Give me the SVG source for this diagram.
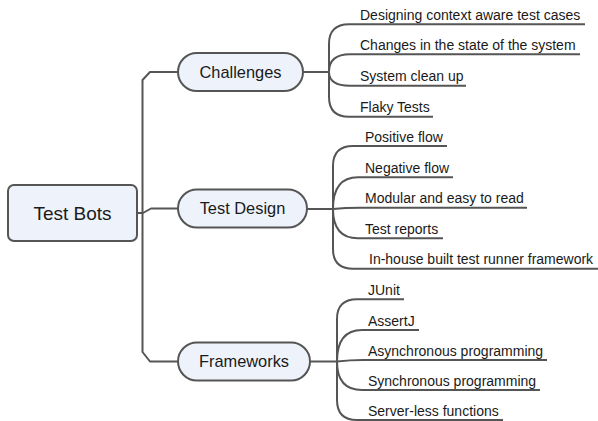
<svg xmlns="http://www.w3.org/2000/svg" width="598" height="421" viewBox="0 0 598 421">
<style>
.ln{fill:none;stroke:#555;stroke-width:2;stroke-linecap:butt;stroke-linejoin:round}
.bx{fill:#eef3fb;stroke:#555;stroke-width:2}
.t{font-family:"Liberation Sans",Arial,sans-serif;fill:#1a1a1a}
.leaf{font-size:14px}
.mid{font-size:16.4px;text-anchor:middle}
</style>
<rect width="598" height="421" fill="#ffffff"/>
<g id="connectors" class="ln">
<path d="M178,72 H150 L142.5,80 V352 L150,361.5 H178"/>
<path d="M137,213 H143 L151,208.5 H178"/>
<path d="M303,72 H329"/>
<path d="M329,72 V44 Q329,24.3 349,24.3 H585"/>
<path d="M329,72 Q329,54.3 350,54.3 H580"/>
<path d="M329,72 Q329,85.7 350,85.7 H466"/>
<path d="M329,72 V97 Q329,116.7 349,116.7 H433"/>
<path d="M307,209 H333"/>
<path d="M333,209 V166 Q333,146 353,146 H447"/>
<path d="M333,209 Q333,177.3 358,177.3 H453"/>
<path d="M333,209 Q345,207.7 361,207.7 H527"/>
<path d="M333,209 Q333,238.3 358,238.3 H443"/>
<path d="M333,209 V249 Q333,268.7 353,268.7 H598"/>
<path d="M310,361.5 H337"/>
<path d="M337,361.5 V319 Q337,299.3 357,299.3 H404"/>
<path d="M337,361.5 Q337,330 362,330 H419"/>
<path d="M337,361.5 Q350,360 363,360 H547"/>
<path d="M337,361.5 Q337,390 362,390 H540"/>
<path d="M337,361.5 V400 Q337,420 357,420 H503"/>
</g>
<g id="root">
<rect class="bx" x="8" y="185" width="129" height="56" rx="6"/>
<text class="t" x="72.5" y="219.5" font-size="19" text-anchor="middle">Test Bots</text>
</g>
<g id="challenges">
<rect class="bx" x="178" y="53" width="125" height="38" rx="19"/>
<text class="t mid" x="240.5" y="77.7">Challenges</text>
</g>
<g id="test-design">
<rect class="bx" x="178" y="189.5" width="129" height="38" rx="19"/>
<text class="t mid" x="242.5" y="214.2">Test Design</text>
</g>
<g id="frameworks">
<rect class="bx" x="178" y="342.5" width="132" height="38" rx="19"/>
<text class="t mid" x="244" y="367.2">Frameworks</text>
</g>
<g id="c1"><text class="t leaf" x="360" y="19.8">Designing context aware test cases</text></g>
<g id="c2"><text class="t leaf" x="360" y="49.8">Changes in the state of the system</text></g>
<g id="c3"><text class="t leaf" x="360" y="81.2">System clean up</text></g>
<g id="c4"><text class="t leaf" x="360" y="112.2">Flaky Tests</text></g>
<g id="d1"><text class="t leaf" x="365" y="141.5">Positive flow</text></g>
<g id="d2"><text class="t leaf" x="365" y="172.8">Negative flow</text></g>
<g id="d3"><text class="t leaf" x="365" y="203.2">Modular and easy to read</text></g>
<g id="d4"><text class="t leaf" x="365" y="233.8">Test reports</text></g>
<g id="d5"><text class="t leaf" x="369" y="264.2">In-house built test runner framework</text></g>
<g id="f1"><text class="t leaf" x="368" y="294.8">JUnit</text></g>
<g id="f2"><text class="t leaf" x="368" y="325.5">AssertJ</text></g>
<g id="f3"><text class="t leaf" x="368" y="355.5">Asynchronous programming</text></g>
<g id="f4"><text class="t leaf" x="368" y="385.5">Synchronous programming</text></g>
<g id="f5"><text class="t leaf" x="368" y="415.5">Server-less functions</text></g>
</svg>
